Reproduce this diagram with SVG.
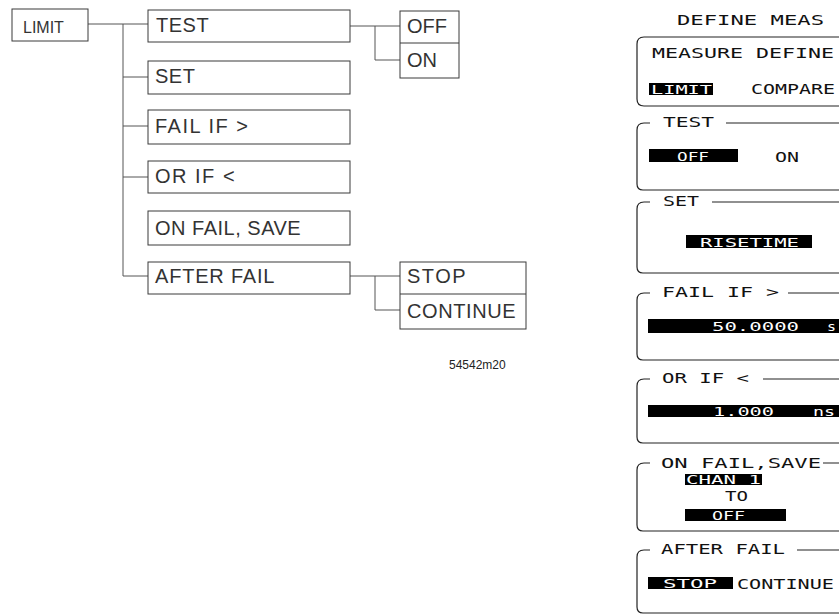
<svg xmlns="http://www.w3.org/2000/svg" width="839" height="616" viewBox="0 0 839 616">
<style>
.bx{fill:#fff;stroke:#3a3a3a;stroke-width:1}
.cn{fill:none;stroke:#555;stroke-width:1}
.t{font-family:"Liberation Sans",Arial,sans-serif;font-size:20px;fill:#333}
.lcd{font-family:"DejaVu Sans Mono","Liberation Mono",monospace;font-size:14px;fill:#111}
.inv{font-family:"DejaVu Sans Mono","Liberation Mono",monospace;font-size:13px;fill:#fff}
.fr{fill:none;stroke:#222;stroke-width:1.2}
.hl{fill:#000}
.cap{font-family:"Liberation Sans Narrow","Liberation Sans",sans-serif;font-size:12px;fill:#222}
</style>
<rect width="839" height="616" fill="#fff"/>

<g id="connectors">
<path class="cn" d="M88 24 H148"/>
<path class="cn" d="M123 24 V276"/>
<path class="cn" d="M123 77 H148"/>
<path class="cn" d="M123 126 H148"/>
<path class="cn" d="M123 177 H148"/>
<path class="cn" d="M123 276 H148"/>
<path class="cn" d="M350 26 H400"/>
<path class="cn" d="M375 26 V60 H400"/>
<path class="cn" d="M350 276 H400"/>
<path class="cn" d="M375 276 V310 H400"/>
</g>

<g id="node-limit"><rect class="bx" x="12" y="9" width="76" height="32"/><text class="t" style="font-size:16px" x="23" y="33">LIMIT</text></g>
<g id="node-test"><rect class="bx" x="148" y="10" width="202" height="32"/><text class="t" x="156" y="32" letter-spacing="0.5">TEST</text></g>
<g id="node-set"><rect class="bx" x="148" y="61" width="202" height="33"/><text class="t" x="155" y="83" letter-spacing="0.5">SET</text></g>
<g id="node-failif"><rect class="bx" x="148" y="110" width="202" height="34"/><text class="t" x="155" y="133" letter-spacing="1.5">FAIL IF &gt;</text></g>
<g id="node-orif"><rect class="bx" x="148" y="161" width="202" height="32"/><text class="t" x="155" y="183" letter-spacing="1.5">OR IF &lt;</text></g>
<g id="node-onfailsave"><rect class="bx" x="148" y="211" width="202" height="34"/><text class="t" x="155" y="235" letter-spacing="0.5">ON FAIL, SAVE</text></g>
<g id="node-afterfail"><rect class="bx" x="148" y="262" width="202" height="32"/><text class="t" x="155" y="283" letter-spacing="0.8">AFTER FAIL</text></g>
<g id="node-offon"><rect class="bx" x="400" y="11" width="59" height="67"/><line class="bx" x1="400" y1="43" x2="459" y2="43"/><text class="t" x="407" y="33">OFF</text><text class="t" x="407" y="67">ON</text></g>
<g id="node-stopcont"><rect class="bx" x="400" y="262" width="126" height="67"/><line class="bx" x1="400" y1="294" x2="526" y2="294"/><text class="t" x="407" y="283" letter-spacing="1.5">STOP</text><text class="t" x="407" y="318" letter-spacing="0.6">CONTINUE</text></g>
<text class="cap" x="449" y="369">54542m20</text>

<g id="panel-header">
<text class="lcd" x="677" y="25" textLength="147" lengthAdjust="spacingAndGlyphs">DEFINE MEAS</text>
<path class="fr" d="M845 37 H644 Q637 37 637 44 V99 Q637 106 644 106 H845"/>
<text class="lcd" x="652" y="58" textLength="182" lengthAdjust="spacingAndGlyphs">MEASURE DEFINE</text>
<rect class="hl" x="649" y="83" width="64" height="12"/>
<text class="inv" x="651" y="94" textLength="61" lengthAdjust="spacingAndGlyphs">LIMIT</text>
<text class="lcd" x="751" y="94" textLength="84" lengthAdjust="spacingAndGlyphs">COMPARE</text>
</g>

<g id="panel-test">
<path class="fr" d="M650 123 H644 Q637 123 637 130 V184 Q637 190 643 190 H845 M726 123 H845"/>
<text class="lcd" x="663" y="127" textLength="51" lengthAdjust="spacingAndGlyphs">TEST</text>
<rect class="hl" x="649" y="149" width="89" height="13"/>
<text class="inv" x="677" y="161" textLength="32" lengthAdjust="spacingAndGlyphs">OFF</text>
<text class="lcd" x="775" y="162" textLength="24" lengthAdjust="spacingAndGlyphs">ON</text>
</g>

<g id="panel-set">
<path class="fr" d="M650 202 H644 Q637 202 637 209 V267 Q637 273 643 273 H845 M712 202 H845"/>
<text class="lcd" x="663" y="206" textLength="36" lengthAdjust="spacingAndGlyphs">SET</text>
<rect class="hl" x="686" y="235" width="126" height="13"/>
<text class="inv" x="700" y="247" textLength="99" lengthAdjust="spacingAndGlyphs">RISETIME</text>
</g>

<g id="panel-failif">
<path class="fr" d="M650 293 H644 Q637 293 637 300 V354 Q637 360 643 360 H845 M788 293 H845"/>
<text class="lcd" x="662" y="297" textLength="117" lengthAdjust="spacingAndGlyphs">FAIL IF &gt;</text>
<rect class="hl" x="648" y="319" width="195" height="14"/>
<text class="inv" x="712" y="331" textLength="87" lengthAdjust="spacingAndGlyphs">50.0000</text>
<text class="inv" x="827" y="331" textLength="9" lengthAdjust="spacingAndGlyphs">s</text>
</g>

<g id="panel-orif">
<path class="fr" d="M650 379 H644 Q637 379 637 386 V437 Q637 443 643 443 H845 M763 379 H845"/>
<text class="lcd" x="662" y="383" textLength="87" lengthAdjust="spacingAndGlyphs">OR IF &lt;</text>
<rect class="hl" x="648" y="405" width="195" height="12"/>
<text class="inv" x="713" y="416" textLength="61" lengthAdjust="spacingAndGlyphs">1.000</text>
<text class="inv" x="813" y="416" textLength="22" lengthAdjust="spacingAndGlyphs">ns</text>
</g>

<g id="panel-onfailsave">
<path class="fr" d="M650 463 H644 Q637 463 637 470 V525 Q637 531 643 531 H845 M823 463 H845"/>
<text class="lcd" x="661" y="468" textLength="160" lengthAdjust="spacingAndGlyphs">ON FAIL,SAVE</text>
<rect class="hl" x="685" y="474" width="77" height="11"/>
<text class="inv" x="686" y="484" textLength="75" lengthAdjust="spacingAndGlyphs">CHAN 1</text>
<text class="lcd" x="725" y="501" textLength="23" lengthAdjust="spacingAndGlyphs">TO</text>
<rect class="hl" x="685" y="509" width="101" height="12"/>
<text class="inv" x="712" y="520" textLength="33" lengthAdjust="spacingAndGlyphs">OFF</text>
</g>

<g id="panel-afterfail">
<path class="fr" d="M650 550 H644 Q637 550 637 557 V607 Q637 613 643 613 H845 M797 550 H845"/>
<text class="lcd" x="661" y="554" textLength="124" lengthAdjust="spacingAndGlyphs">AFTER FAIL</text>
<rect class="hl" x="648" y="577" width="85" height="12"/>
<text class="inv" x="663" y="588" textLength="54" lengthAdjust="spacingAndGlyphs">STOP</text>
<text class="lcd" x="737" y="589" textLength="97" lengthAdjust="spacingAndGlyphs">CONTINUE</text>
</g>
</svg>
